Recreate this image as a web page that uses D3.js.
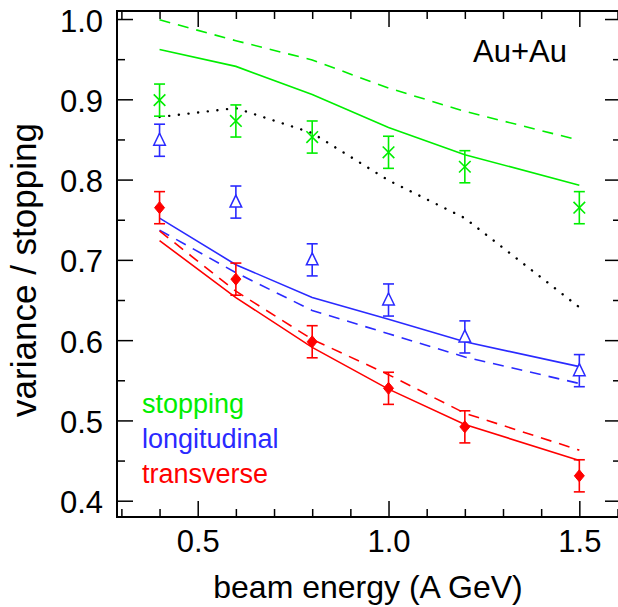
<!DOCTYPE html>
<html><head><meta charset="utf-8">
<script src="https://cdn.jsdelivr.net/npm/d3@7"></script>
<style>body{margin:0;background:#fff}svg{display:block;font-family:"Liberation Sans",Arial,sans-serif}</style>
</head><body><svg id="c" width="618" height="607"></svg>
<script>
const energies = [0.4, 0.6, 0.8, 1.0, 1.2, 1.5];
const stoppingData = [0.899, 0.873, 0.853, 0.834, 0.816, 0.765];
const longData = [0.849, 0.772, 0.700, 0.650, 0.604, 0.562];
const transData = [0.765, 0.676, 0.598, 0.540, 0.492, 0.431];
const errors = [0.02, 0.02, 0.02, 0.02, 0.02, 0.02];
const stoppingSolid = [0.962, 0.941, 0.906, 0.865, 0.831, 0.793];
const stoppingDashed = [0.999, 0.973, 0.949, 0.914, 0.885, 0.849];
const stoppingDotted = [0.878, 0.889, 0.858, 0.799, 0.752, 0.641];
const longSolid = [0.752, 0.694, 0.653, 0.626, 0.598, 0.567];
const longDashed = [0.737, 0.684, 0.637, 0.608, 0.579, 0.546];
const transSolid = [0.724, 0.653, 0.591, 0.539, 0.495, 0.450];
const transDashed = [0.736, 0.661, 0.601, 0.557, 0.509, 0.463];
const xMajor = [0.5, 1.0, 1.5];
const xMinor = [0.3, 0.4, 0.6, 0.7, 0.8, 0.9, 1.1, 1.2, 1.3, 1.4, 1.6];
const yMajor = [0.4, 0.5, 0.6, 0.7, 0.8, 0.9, 1.0];
const yMinor = [0.45, 0.55, 0.65, 0.75, 0.85, 0.95];
const legendLabels = ["stopping", "longitudinal", "transverse"];

const GREEN = "#00ee00", BLUE = "#2a2aff", RED = "#ff0000";
const L = 117, R = 621, T = 11, B = 517;
const svg = d3.select("#c");
const x = d3.scaleLinear().domain([0.2885, 1.6092]).range([L, R]);
const y = d3.scaleLinear().domain([0.3797, 1.01]).range([B, T]);

// axes / ticks
function styleAxis(g){ g.select(".domain").remove(); g.selectAll("line").attr("stroke","#000").attr("stroke-width",1.5); g.selectAll("text").attr("font-size",31).attr("fill","#000").attr("font-family","Liberation Sans, Arial, sans-serif"); }
svg.append("g").attr("transform",`translate(0,${B})`).call(d3.axisBottom(x).tickValues(xMajor).tickSize(-16).tickPadding(0).tickFormat(d3.format(".1f"))).call(styleAxis)
  .selectAll("text").attr("dy",null).attr("y",35);
svg.append("g").attr("transform",`translate(0,${B})`).call(d3.axisBottom(x).tickValues(xMinor).tickSize(-8).tickFormat("")).call(styleAxis);
svg.append("g").attr("transform",`translate(0,${T})`).call(d3.axisTop(x).tickValues(xMajor).tickSize(-16).tickFormat("")).call(styleAxis);
svg.append("g").attr("transform",`translate(0,${T})`).call(d3.axisTop(x).tickValues(xMinor).tickSize(-8).tickFormat("")).call(styleAxis);
svg.append("g").attr("transform",`translate(${L},0)`).call(d3.axisLeft(y).tickValues(yMajor).tickSize(-16).tickPadding(14).tickFormat(d3.format(".1f"))).call(styleAxis)
  .selectAll("text").attr("dy",null).attr("y",12);
svg.append("g").attr("transform",`translate(${L},0)`).call(d3.axisLeft(y).tickValues(yMinor).tickSize(-8).tickFormat("")).call(styleAxis);
svg.append("g").attr("transform",`translate(${R},0)`).call(d3.axisRight(y).tickValues(yMajor).tickSize(-16).tickFormat("")).call(styleAxis);
svg.append("g").attr("transform",`translate(${R},0)`).call(d3.axisRight(y).tickValues(yMinor).tickSize(-8).tickFormat("")).call(styleAxis);
svg.append("rect").attr("x",L).attr("y",T).attr("width",R-L).attr("height",B-T).attr("fill","none").attr("stroke","#000").attr("stroke-width",2);

// lines
const line = d3.line().x((d,i)=>x(energies[i])).y(d=>y(d));
function drawLine(vals, color, dash, w){
  const p = svg.append("path").attr("d", line(vals)).attr("fill","none").attr("stroke",color).attr("stroke-width", w||1.6);
  if (dash) p.attr("stroke-dasharray", dash);
  return p;
}
drawLine(stoppingDashed, GREEN, "11,8");
drawLine(stoppingSolid, GREEN);
drawLine(stoppingDotted, "#000", "0.1,9.6", 2.4).attr("stroke-linecap","round");
drawLine(longDashed, BLUE, "11,8");
drawLine(longSolid, BLUE);
drawLine(transDashed, RED, "11,8");
drawLine(transSolid, RED);

// error bars + markers
function errBars(vals, color){
  const g = svg.append("g").attr("stroke",color).attr("stroke-width",1.6).attr("fill","none");
  vals.forEach((v,i)=>{
    const cx = x(energies[i]), y1 = y(v+errors[i]), y2 = y(v-errors[i]);
    g.append("line").attr("x1",cx).attr("x2",cx).attr("y1",y1).attr("y2",y2);
    g.append("line").attr("x1",cx-5.5).attr("x2",cx+5.5).attr("y1",y1).attr("y2",y1);
    g.append("line").attr("x1",cx-5.5).attr("x2",cx+5.5).attr("y1",y2).attr("y2",y2);
  });
}
errBars(stoppingData, GREEN);
errBars(longData, BLUE);
errBars(transData, RED);

svg.append("g").selectAll("path").data(stoppingData).join("path")
  .attr("d",(d,i)=>{const cx=x(energies[i]),cy=y(d),s=5.8;return `M${cx-s},${cy-s}L${cx+s},${cy+s}M${cx-s},${cy+s}L${cx+s},${cy-s}`;})
  .attr("stroke",GREEN).attr("stroke-width",1.6).attr("fill","none");
svg.append("g").selectAll("path").data(longData).join("path")
  .attr("d",(d,i)=>{const cx=x(energies[i]),cy=y(d);return `M${cx},${cy-7}L${cx+5.8},${cy+5}L${cx-5.8},${cy+5}Z`;})
  .attr("stroke",BLUE).attr("stroke-width",1.5).attr("fill","#fff");
svg.append("g").selectAll("path").data(transData).join("path")
  .attr("d",(d,i)=>{const cx=x(energies[i]),cy=y(d);return `M${cx},${cy-6}L${cx+5},${cy}L${cx},${cy+6}L${cx-5},${cy}Z`;})
  .attr("fill",RED).attr("stroke",RED).attr("stroke-width",1);

// texts
svg.append("text").attr("x",567).attr("y",62).attr("text-anchor","end").attr("font-size",31).text("Au+Au");
const legColors = [GREEN, BLUE, RED];
svg.append("g").selectAll("text").data(legendLabels).join("text")
  .attr("x",142).attr("y",(d,i)=>413+i*35).attr("font-size",27).attr("fill",(d,i)=>legColors[i]).text(d=>d);
svg.append("text").attr("x",368).attr("y",598).attr("text-anchor","middle").attr("font-size",32).text("beam energy (A GeV)");
svg.append("text").attr("transform","translate(36,270) rotate(-90)").attr("text-anchor","middle").attr("font-size",35).text("variance / stopping");
</script></body></html>
